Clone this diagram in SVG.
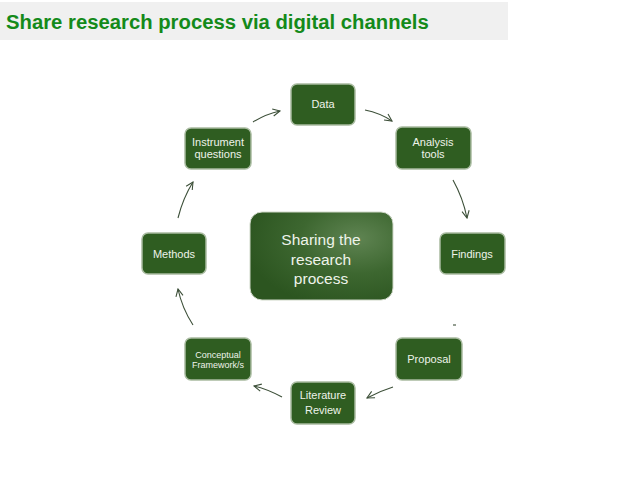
<svg xmlns="http://www.w3.org/2000/svg" width="638" height="479" viewBox="0 0 638 479">
<defs>
<style>
.node rect{fill:#2f5d21;stroke:#a9bba0;stroke-width:1.5}
.node text{font-family:"Liberation Sans",Arial,sans-serif;font-size:11px;fill:#eef3ea;text-anchor:middle}
.conn path{fill:none;stroke:#3c4f38;stroke-width:1.1;marker-end:url(#arr)}
.ct{font-family:"Liberation Sans",Arial,sans-serif;font-size:15.5px;fill:#eef3ea;text-anchor:middle}
</style>
<marker id="arr" viewBox="0 0 10 10" refX="9" refY="5" markerWidth="9" markerHeight="9" orient="auto" markerUnits="userSpaceOnUse">
<path d="M1,1 L9,5 L1,9" fill="none" stroke="#3c4f38" stroke-width="1.2"/>
</marker>
<radialGradient id="cg" cx="0.75" cy="0.3" r="0.8">
<stop offset="0" stop-color="#5f8452"/>
<stop offset="0.5" stop-color="#3d6730"/>
<stop offset="1" stop-color="#2c5520"/>
</radialGradient>
</defs>
<rect x="0" y="0" width="638" height="479" fill="#ffffff"/>
<rect x="0" y="2" width="508" height="38" fill="#f0f0f0"/>
<text x="6" y="29" font-family="'Liberation Sans',Arial,sans-serif" font-size="20.3" font-weight="bold" fill="#148a1a">Share research process via digital channels</text>

<g class="conn">
<path d="M253,122 Q266,114 280,111"/>
<path d="M365,110 Q380,113 392,121"/>
<path d="M453,180 Q463,198 467,218"/>
<path d="M393,387 Q380,391 367,398"/>
<path d="M282,397 Q267,389 254,386"/>
<path d="M193,325 Q182,308 178,289"/>
<path d="M178,218 Q183,198 193,182"/>
<path d="M453,325 L456,325" style="marker-end:none"/>
</g>

<g id="center">
<rect x="250" y="212" width="143" height="88" rx="12" fill="url(#cg)" stroke="#cfd8c8" stroke-width="1"/>
<text class="ct" x="321" y="245">Sharing the</text>
<text class="ct" x="321" y="265">research</text>
<text class="ct" x="321" y="284">process</text>
</g>
<g id="data" class="node"><rect x="291" y="84" width="64" height="41" rx="6"/><text x="323" y="108">Data</text></g>
<g id="analysis" class="node"><rect x="396" y="127" width="75" height="42" rx="6"/><text x="433" y="146">Analysis</text><text x="433" y="158">tools</text></g>
<g id="findings" class="node"><rect x="440" y="233" width="65" height="41" rx="6"/><text x="472" y="258">Findings</text></g>
<g id="proposal" class="node"><rect x="396" y="338" width="66" height="42" rx="6"/><text x="429" y="363">Proposal</text></g>
<g id="literature" class="node"><rect x="291" y="382" width="64" height="42" rx="6"/><text x="323" y="399">Literature</text><text x="323" y="414">Review</text></g>
<g id="conceptual" class="node"><rect x="185" y="338" width="66" height="42" rx="6"/><text x="218" y="358" style="font-size:9px">Conceptual</text><text x="218" y="368" style="font-size:9px">Framework/s</text></g>
<g id="methods" class="node"><rect x="142" y="233" width="64" height="41" rx="6"/><text x="174" y="258">Methods</text></g>
<g id="instrument" class="node"><rect x="185" y="128" width="66" height="41" rx="6"/><text x="218" y="146">Instrument</text><text x="218" y="158">questions</text></g>
</svg>
